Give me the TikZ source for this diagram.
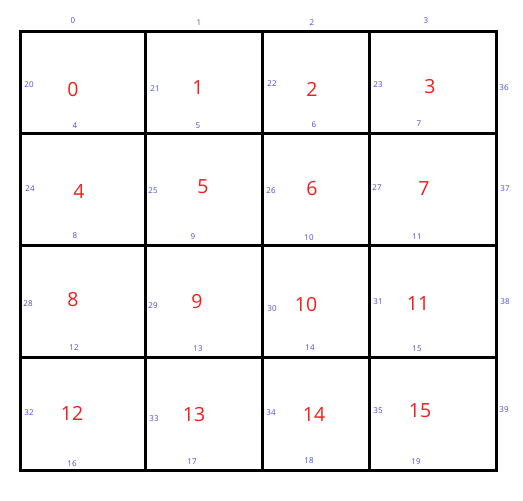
\documentclass[tikz,border=0pt]{standalone}
\usepackage{fontspec}
\setmainfont{Open Sans}
\definecolor{lblue}{RGB}{75,75,215}
\definecolor{bred}{RGB}{240,30,30}
\tikzset{
  small/.style={text=lblue,font=\fontsize{8}{9}\selectfont,inner sep=0pt},
  big/.style={text=bred,font=\fontsize{19.5}{21}\selectfont,inner sep=0pt},
  gridline/.style={line width=3pt,black}
}
\begin{document}
\begin{tikzpicture}[x=1pt,y=-1pt]
\useasboundingbox (0,0) rectangle (523,501);
% grid
\draw[gridline] (20,31) rectangle (496,470);
\foreach \x in {145,262,369} \draw[gridline] (\x,31) -- (\x,470);
\foreach \y in {133,245,357} \draw[gridline] (20,\y) -- (496,\y);
% top labels
\node[small] (t0) at (73,21) {0};
\node[small] (t1) at (199,23) {1};
\node[small] (t2) at (312,23) {2};
\node[small] (t3) at (426,21) {3};
% row 1
\node[small] (s20) at (29,85) {20};
\node[small] (s21) at (155,89) {21};
\node[small] (s22) at (272,84) {22};
\node[small] (s23) at (378,85) {23};
\node[small] (s36) at (504,88) {36};
\node[big] (c0) at (73,90) {0};
\node[big] (c1) at (198,88) {1};
\node[big] (c2) at (312,89) {2};
\node[big] (c3) at (430,87) {3};
\node[small] (b4) at (75,126) {4};
\node[small] (b5) at (198,126) {5};
\node[small] (b6) at (314,125) {6};
\node[small] (b7) at (419,124) {7};
% row 2
\node[small] (s24) at (30,189) {24};
\node[small] (s25) at (153,191) {25};
\node[small] (s26) at (271,191) {26};
\node[small] (s27) at (377,188) {27};
\node[small] (s37) at (505,189) {37};
\node[big] (c4) at (79,191) {4};
\node[big] (c5) at (203,187) {5};
\node[big] (c6) at (312,189) {6};
\node[big] (c7) at (424,189) {7};
\node[small] (b8) at (75,236) {8};
\node[small] (b9) at (193,237) {9};
\node[small] (b10) at (309,238) {10};
\node[small] (b11) at (417,237) {11};
% row 3
\node[small] (s28) at (28,304) {28};
\node[small] (s29) at (153,306) {29};
\node[small] (s30) at (272,309) {30};
\node[small] (s31) at (378,302) {31};
\node[small] (s38) at (505,302) {38};
\node[big] (c8) at (73,300) {8};
\node[big] (c9) at (197,302) {9};
\node[big] (c10) at (306,305) {10};
\node[big] (c11) at (418,304) {11};
\node[small] (b12) at (74,348) {12};
\node[small] (b13) at (198,349) {13};
\node[small] (b14) at (310,348) {14};
\node[small] (b15) at (417,349) {15};
% row 4
\node[small] (s32) at (29,413) {32};
\node[small] (s33) at (154,419) {33};
\node[small] (s34) at (271,413) {34};
\node[small] (s35) at (378,411) {35};
\node[small] (s39) at (504,410) {39};
\node[big] (c12) at (72,413) {12};
\node[big] (c13) at (194,415) {13};
\node[big] (c14) at (314,414) {14};
\node[big] (c15) at (420,411) {15};
\node[small] (b16) at (72,464) {16};
\node[small] (b17) at (192,462) {17};
\node[small] (b18) at (309,461) {18};
\node[small] (b19) at (416,462) {19};
\end{tikzpicture}
\end{document}
